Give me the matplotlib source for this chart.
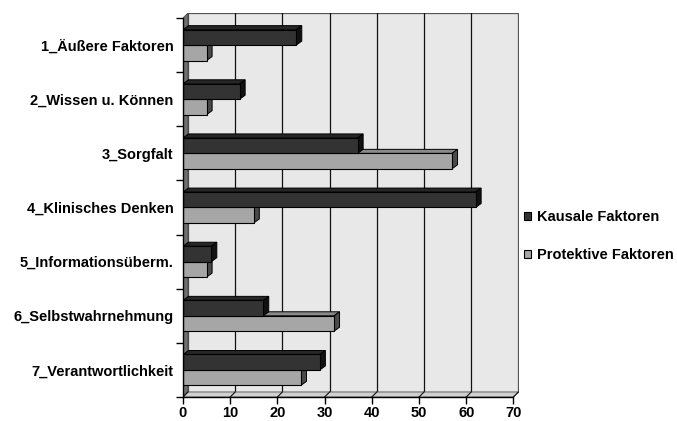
import matplotlib
matplotlib.use("Agg")
import matplotlib.pyplot as plt
from matplotlib.patches import Polygon, Rectangle, Patch

categories = ["1_Äußere Faktoren", "2_Wissen u. Können", "3_Sorgfalt",
              "4_Klinisches Denken", "5_Informationsüberm.",
              "6_Selbstwahrnehmung", "7_Verantwortlichkeit"]
kausale = [24, 12, 37, 62, 6, 17, 29]
protektive = [5, 5, 57, 15, 5, 32, 25]
series_names = ["Kausale Faktoren", "Protektive Faktoren"]
xticks = [0, 10, 20, 30, 40, 50, 60, 70]

plt.rcParams['font.family'] = ['Liberation Sans', 'DejaVu Sans']

W, H = 677, 421
fig = plt.figure(figsize=(W / 100, H / 100), dpi=100)
x0px, x1px = 183, 519
ytop_px, ybot_px = 13, 397
ax = fig.add_axes([x0px / W, 1 - ybot_px / H, (x1px - x0px) / W, (ybot_px - ytop_px) / H])

xmax = 70
pxu = 47.2 / 10.0                   # pixels per unit
wall_dx = 5.0 / pxu
n = len(categories)
cat_px = (ybot_px - ytop_px - 5) / n
wall_dy = 5.0 / cat_px
bar_dx = 5.5 / pxu
bar_dy = 4.0 / cat_px

ax.set_xlim(0, (x1px - x0px) / pxu)
ax.set_ylim(n - 0.5, -0.5 - wall_dy)

# back wall
ax.add_patch(Rectangle((wall_dx, -0.5 - wall_dy), xmax, n, facecolor="#e8e8e8",
                       edgecolor="#555555", lw=0.9, zorder=1))
for t in xticks[1:-1]:
    ax.plot([t + wall_dx, t + wall_dx], [-0.5 - wall_dy, n - 0.5 - wall_dy],
            color="#111111", lw=0.9, zorder=2)
# left side wall
ax.add_patch(Polygon([(0, -0.5), (wall_dx, -0.5 - wall_dy), (wall_dx, n - 0.5 - wall_dy),
                      (0, n - 0.5)], closed=True, facecolor="#707070",
                     edgecolor="#444444", lw=0.6, zorder=2))
# floor
ax.add_patch(Polygon([(0, n - 0.5), (wall_dx, n - 0.5 - wall_dy), (xmax + wall_dx, n - 0.5 - wall_dy),
                      (xmax, n - 0.5)], closed=True, facecolor="#d0d0d0",
                     edgecolor="#555555", lw=0.6, zorder=2))
for t in xticks:
    ax.plot([t, t + wall_dx], [n - 0.5, n - 0.5 - wall_dy], color="#111111", lw=0.8, zorder=2)


def bar3d(v, y0, y1, front, top, side, z):
    ax.add_patch(Polygon([(0, y0), (bar_dx, y0 - bar_dy), (v + bar_dx, y0 - bar_dy), (v, y0)],
                         closed=True, facecolor=top, edgecolor="black", lw=0.7, zorder=z))
    ax.add_patch(Polygon([(v, y0), (v + bar_dx, y0 - bar_dy), (v + bar_dx, y1 - bar_dy), (v, y1)],
                         closed=True, facecolor=side, edgecolor="black", lw=0.7, zorder=z))
    ax.add_patch(Rectangle((0, y0), v, y1 - y0, facecolor=front, edgecolor="black",
                           lw=0.8, zorder=z + 0.1))


h = 0.285
for i in range(n):
    bar3d(protektive[i], i, i + h, "#a6a6a6", "#8a8a8a", "#4a4a4a", 4 + i * 0.01)
    bar3d(kausale[i], i - h, i, "#333333", "#262626", "#111111", 5 + i * 0.01)

# axes lines
for s in ax.spines.values():
    s.set_visible(False)
ax.plot([0, 0], [-0.5, n - 0.5], color="black", lw=1.0, zorder=6, clip_on=False)
ax.plot([0, xmax], [n - 0.5, n - 0.5], color="black", lw=1.0, zorder=6, clip_on=False)
ax.set_xticks(xticks)
ax.set_xticklabels([str(t) for t in xticks], fontsize=10.5, fontweight="bold")
ax.set_yticks([i - 0.5 for i in range(n + 1)])
ax.set_yticklabels([])
ax.set_yticks(list(range(n)), minor=True)
ax.set_yticklabels(categories, minor=True, fontsize=10.5, fontweight="bold")
ax.tick_params(axis="y", which="major", length=5, width=1, direction="out")
ax.tick_params(axis="y", which="minor", length=0, pad=7)
ax.tick_params(axis="x", length=5, width=1, direction="out", pad=1.5)

handles = [Patch(facecolor="#333333", edgecolor="black", lw=0.8),
           Patch(facecolor="#a6a6a6", edgecolor="black", lw=0.8)]
fig.legend(handles, series_names, loc="center left", bbox_to_anchor=(524 / W, 1 - 236 / H),
           frameon=False, borderpad=0, borderaxespad=0, handlelength=0.48, handleheight=0.48,
           handletextpad=0.38, labelspacing=1.62, prop={"size": 10.5, "weight": "bold"})

fig.savefig("out.png", dpi=100)
